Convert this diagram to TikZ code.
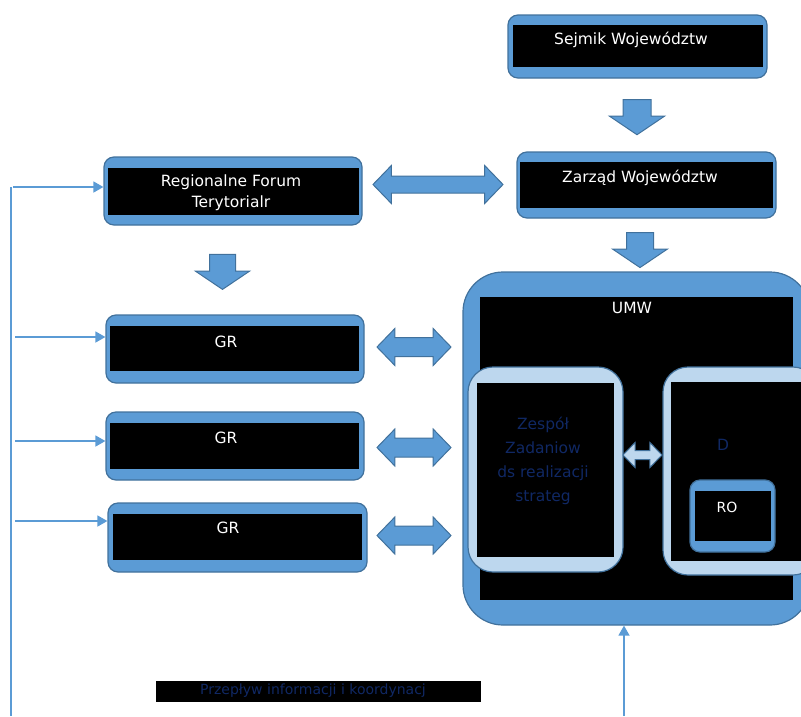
\documentclass[tikz,border=0pt]{standalone}
\usepackage{fontspec}
\setmainfont{DejaVu Sans}
\usetikzlibrary{shapes.arrows, arrows.meta}

\definecolor{boxblue}{HTML}{5B9BD5}
\definecolor{edgeblue}{HTML}{41719C}
\definecolor{paleblue}{HTML}{BDD7EE}
\definecolor{navytext}{RGB}{16,40,100}

\tikzset{
  outerbox/.style={fill=boxblue, draw=edgeblue, line width=1.2pt, rounded corners=10pt, inner sep=0pt},
  innerbox/.style={fill=black, inner sep=0pt},
  boxtext/.style={text=white, font=\fontsize{15.5}{21}\selectfont, align=center, inner sep=0pt},
  deeptext/.style={text=navytext, font=\fontsize{15.5}{24}\selectfont, align=center, inner sep=0pt},
  blockdown/.style={single arrow, fill=boxblue, draw=edgeblue, line width=1pt, rotate=-90, inner xsep=0pt,
    single arrow tip angle=112, single arrow head indent=0pt},
  blockboth/.style={double arrow, fill=boxblue, draw=edgeblue, line width=1pt, inner xsep=0pt,
    double arrow tip angle=92, double arrow head indent=0pt},
  thinline/.style={draw=boxblue, line width=1.5pt},
  feed/.style={thinline, -{Triangle[length=10pt, width=11pt]}},
}

\begin{document}
\begin{tikzpicture}[x=1pt, y=-1pt]
\useasboundingbox (0,0) rectangle (801,716);
\clip (0,0) rectangle (801,716);

% top boxes
\node[outerbox, minimum width=259pt, minimum height=63pt] (sejmik) at (637.5,46.5) {};
\node[innerbox, minimum width=250pt, minimum height=42pt] (sejmikin) at (638,46) {};
\node[boxtext] (sejmiktxt) at (631,40) {Sejmik Województw};

\node[outerbox, minimum width=259pt, minimum height=66pt] (zarzad) at (646.5,185) {};
\node[innerbox, minimum width=253pt, minimum height=46pt] (zarzadin) at (646.5,185) {};
\node[boxtext] (zarzadtxt) at (640,178) {Zarząd Województw};

\node[outerbox, minimum width=258pt, minimum height=68pt] (rft) at (233,191) {};
\node[innerbox, minimum width=251pt, minimum height=47pt] (rftin) at (233.5,191.5) {};
\node[boxtext] (rfttxt) at (231,192.5) {Regionalne Forum\\Terytorialr};

% GR boxes
\node[outerbox, minimum width=258pt, minimum height=68pt] (gr1) at (235,349) {};
\node[innerbox, minimum width=249pt, minimum height=45pt] (gr1in) at (234.5,348.5) {};
\node[boxtext] (gr1txt) at (226,342) {GR};

\node[outerbox, minimum width=258pt, minimum height=68pt] (gr2) at (235,446) {};
\node[innerbox, minimum width=249pt, minimum height=46pt] (gr2in) at (234.5,446) {};
\node[boxtext] (gr2txt) at (226,438) {GR};

\node[outerbox, minimum width=259pt, minimum height=69pt] (gr3) at (237.5,537.5) {};
\node[innerbox, minimum width=249pt, minimum height=46pt] (gr3in) at (237.5,537) {};
\node[boxtext] (gr3txt) at (228,528) {GR};

% UMW
\node[outerbox, rounded corners=40pt, minimum width=347pt, minimum height=353pt] (umw) at (636.5,448.5) {};
\node[innerbox, minimum width=313pt, minimum height=303pt] (umwin) at (636.5,448.5) {};
\node[boxtext] (umwtxt) at (632,308) {UMW};

\node[outerbox, fill=paleblue, rounded corners=25pt, minimum width=155pt, minimum height=205pt] (zesp) at (545.5,469.5) {};
\node[innerbox, minimum width=137pt, minimum height=174pt] (zespin) at (545.5,470) {};
\node[deeptext] (zesptxt) at (543,461) {Zespół\\Zadaniow\\ds realizacji\\strateg};

\node[outerbox, fill=paleblue, rounded corners=25pt, minimum width=155pt, minimum height=208pt] (dzial) at (740.5,471) {};
\node[innerbox, minimum width=139pt, minimum height=179pt] (dzialin) at (740.5,471.5) {};
\node[deeptext] (dzialtxt) at (723,445) {D};

\node[outerbox, minimum width=85pt, minimum height=72pt] (ro) at (732.5,516) {};
\node[innerbox, minimum width=76pt, minimum height=50pt] (roin) at (733,516) {};
\node[boxtext, font=\fontsize{14}{16}\selectfont] (rotxt) at (727,507) {RO};

% block arrows
\node[blockdown, minimum height=35pt, inner ysep=13.5pt, single arrow head extend=13.5pt] (dSZ) at (637,112.5) {};
\node[blockdown, minimum height=35pt, inner ysep=13pt, single arrow head extend=14pt] (dZU) at (640,245.5) {};
\node[blockdown, minimum height=35pt, inner ysep=12.5pt, single arrow head extend=14pt] (dRG) at (222.5,267.5) {};
\node[blockboth, minimum height=130pt, inner ysep=8pt, double arrow head extend=10.5pt] (bRZ) at (438,184.5) {};
\node[blockboth, minimum height=74pt, inner ysep=9pt, double arrow head extend=9pt] (bG1) at (414,347) {};
\node[blockboth, minimum height=74pt, inner ysep=9pt, double arrow head extend=9pt] (bG2) at (414,447.5) {};
\node[blockboth, minimum height=74pt, inner ysep=9pt, double arrow head extend=9pt] (bG3) at (414,535.5) {};
\node[blockboth, fill=paleblue, minimum height=39pt, inner ysep=4pt, double arrow head extend=8pt] (bZD) at (642.5,455) {};

% feedback lines
\coordinate (fbtop) at (11,187);
\coordinate (fbbot) at (11,716);
\draw[thinline] (fbtop) -- (fbbot);
\coordinate (fbA) at (13,187);
\coordinate (fbB) at (15,337);
\coordinate (fbC) at (15,441);
\coordinate (fbD) at (15,521);
\draw[feed] (fbA) -- (fbA -| rft.west);
\draw[feed] (fbB) -- (fbB -| gr1.west);
\draw[feed] (fbC) -- (fbC -| gr2.west);
\draw[feed] (fbD) -- (fbD -| gr3.west);
\coordinate (fbup) at (624,716);
\draw[feed] (fbup) -- (fbup |- umw.south);

% bottom label
\node[innerbox, minimum width=325pt, minimum height=21pt] (flow) at (318.5,691.5) {};
\node[deeptext, font=\fontsize{14}{16}\selectfont] (flowtxt) at (313,691) {Przepływ informacji i koordynacj};
\end{tikzpicture}
\end{document}
